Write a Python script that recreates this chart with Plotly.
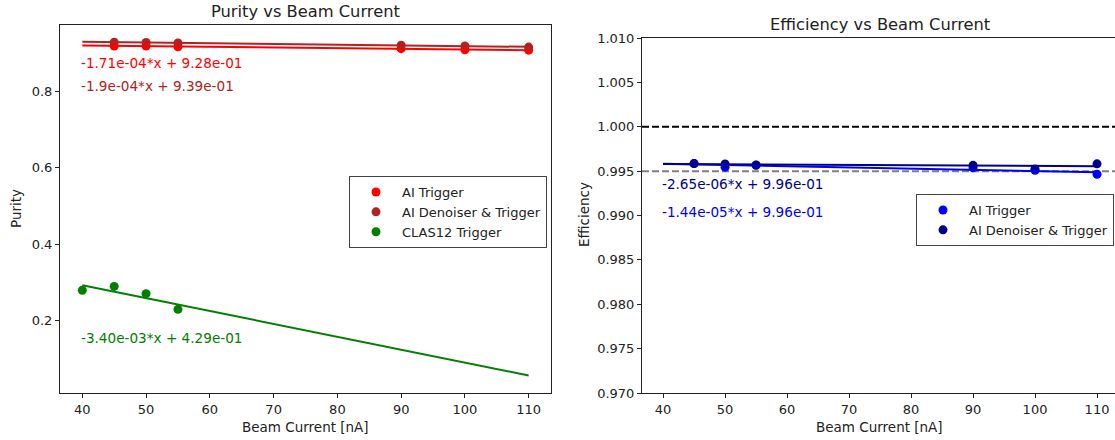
import numpy as np
import plotly.graph_objects as go

# ---------------- data ----------------
beam_ai = [45, 50, 55, 90, 100, 110]
purity_ai_trigger = [0.920, 0.920, 0.918, 0.913, 0.910, 0.909]
purity_ai_denoiser = [0.930, 0.929, 0.928, 0.922, 0.920, 0.917]

beam_clas = [40, 45, 50, 55]
purity_clas12 = [0.279, 0.289, 0.270, 0.229]

eff_ai_trigger = [0.99585, 0.99545, 0.99565, 0.99538, 0.99510, 0.99465]
eff_ai_denoiser = [0.99585, 0.99580, 0.99570, 0.99565, 0.99525, 0.99582]

fit_range = [40, 110]

purity_fit_labels = ["-1.71e-04*x + 9.28e-01", "-1.9e-04*x + 9.39e-01", "-3.40e-03*x + 4.29e-01"]
purity_label_y = [0.875, 0.815, 0.155]
eff_fit_labels = ["-2.65e-06*x + 9.96e-01", "-1.44e-05*x + 9.96e-01"]
eff_label_y = [0.9935, 0.99043]

eff_ref_lines = [1.000, 0.995]

# ---------------- style ----------------
FONT = "DejaVu Sans"
C_RED = "#ff0000"
C_FIRE = "#b22222"
C_GREEN = "#008000"
C_BLUE = "#0000ff"
C_NAVY = "#00008b"
TICK_FS = 13
LABEL_FS = 13.5
LEGEND_FS = 13
ANN_FS = 13.6
TITLE_FS = 16.3

fig = go.Figure()


def fit_line(x, y):
    m, b = np.polyfit(np.array(x, float), np.array(y, float), 1)
    xs = np.array(fit_range, float)
    return xs, m * xs + b


# Left: purity
for x, y, col, name in [
    (beam_ai, purity_ai_trigger, C_RED, "AI Trigger"),
    (beam_ai, purity_ai_denoiser, C_FIRE, "AI Denoiser & Trigger"),
    (beam_clas, purity_clas12, C_GREEN, "CLAS12 Trigger"),
]:
    fig.add_trace(go.Scatter(x=x, y=y, mode="markers", name=name,
                             marker=dict(color=col, size=9),
                             xaxis="x", yaxis="y", legend="legend"))
for x, y, col in [
    (beam_ai, purity_ai_trigger, C_RED),
    (beam_ai, purity_ai_denoiser, C_FIRE),
    (beam_clas, purity_clas12, C_GREEN),
]:
    xs, ys = fit_line(x, y)
    fig.add_trace(go.Scatter(x=xs, y=ys, mode="lines", showlegend=False,
                             line=dict(color=col, width=2),
                             xaxis="x", yaxis="y", hoverinfo="skip"))

# Right: efficiency
for x, y, col, name in [
    (beam_ai, eff_ai_trigger, C_BLUE, "AI Trigger"),
    (beam_ai, eff_ai_denoiser, C_NAVY, "AI Denoiser & Trigger"),
]:
    fig.add_trace(go.Scatter(x=x, y=y, mode="markers", name=name,
                             marker=dict(color=col, size=9),
                             xaxis="x2", yaxis="y2", legend="legend2"))
for x, y, col in [
    (beam_ai, eff_ai_trigger, C_BLUE),
    (beam_ai, eff_ai_denoiser, C_NAVY),
]:
    xs, ys = fit_line(x, y)
    fig.add_trace(go.Scatter(x=xs, y=ys, mode="lines", showlegend=False,
                             line=dict(color=col, width=2),
                             xaxis="x2", yaxis="y2", hoverinfo="skip"))

# reference dashed lines
for yv, col in zip(eff_ref_lines, ["#000000", "#808080"]):
    fig.add_shape(type="line", xref="x2 domain", yref="y2", x0=0, x1=1, y0=yv, y1=yv,
                  line=dict(color=col, width=2, dash="7px,3px"), layer="below")

# fit annotations
for txt, yv, col in zip(purity_fit_labels, purity_label_y, [C_RED, C_FIRE, C_GREEN]):
    fig.add_annotation(x=fit_range[0], y=yv, xref="x", yref="y", text=txt, showarrow=False,
                       xanchor="left", yanchor="middle", xshift=-3,
                       font=dict(color=col, size=ANN_FS, family=FONT))
for txt, yv, col in zip(eff_fit_labels, eff_label_y, [C_NAVY, C_BLUE]):
    fig.add_annotation(x=fit_range[0], y=yv, xref="x2", yref="y2", text=txt, showarrow=False,
                       xanchor="left", yanchor="middle", xshift=-3,
                       font=dict(color=col, size=ANN_FS, family=FONT))

W, H = 1115, 440
L1, R1 = 60 / W, 551 / W
L2 = 642 / W
B = (H - 393) / H
T1 = (H - 25) / H
T2 = (H - 38) / H

axis_common = dict(showline=True, linecolor="#222", linewidth=1, ticks="outside",
                   ticklen=4, tickcolor="#222", showgrid=False, zeroline=False,
                   automargin=False,
                   tickfont=dict(size=TICK_FS, color="#222", family=FONT))

fig.update_layout(
    template="none",
    width=W, height=H,
    margin=dict(l=0, r=0, t=0, b=0, pad=0),
    paper_bgcolor="white", plot_bgcolor="white",
    font=dict(family=FONT, color="#222"),
    xaxis=dict(domain=[L1, R1], range=[36.5, 113.5], tickvals=[40, 50, 60, 70, 80, 90, 100, 110],
               mirror=True, anchor="y", **axis_common),
    yaxis=dict(domain=[B, T1], range=[0.0094, 0.975], tickvals=[0.2, 0.4, 0.6, 0.8],
               tickformat=".1f", mirror=True, anchor="x", **axis_common),
    xaxis2=dict(domain=[L2, 1.0], range=[36.6, 112.9], tickvals=[40, 50, 60, 70, 80, 90, 100, 110],
                mirror=True, anchor="y2", **axis_common),
    yaxis2=dict(domain=[B, T2], range=[0.970, 1.010], dtick=0.005, tick0=0.97,
                tickformat=".3f", mirror=False, anchor="x2", **axis_common),
    legend=dict(x=349 / W, y=(H - 176) / H, xanchor="left", yanchor="top",
                bgcolor="white", bordercolor="#444", borderwidth=1,
                tracegroupgap=0, itemwidth=42,
                font=dict(size=LEGEND_FS, family=FONT, color="#222")),
    legend2=dict(x=916 / W, y=(H - 194) / H, xanchor="left", yanchor="top",
                 bgcolor="white", bordercolor="#444", borderwidth=1,
                 tracegroupgap=0, itemwidth=42,
                 font=dict(size=LEGEND_FS, family=FONT, color="#222")),
    showlegend=True,
)

# titles and axis labels
fig.add_annotation(text="Purity vs Beam Current", x=(L1 + R1) / 2, y=(H - 12) / H, xref="paper", yref="paper",
                   showarrow=False, xanchor="center", yanchor="middle", font=dict(size=TITLE_FS, family=FONT))
fig.add_annotation(text="Efficiency vs Beam Current", x=(642 + 1118) / 2 / W, y=(H - 25) / H, xref="paper", yref="paper",
                   showarrow=False, xanchor="center", yanchor="middle", font=dict(size=TITLE_FS, family=FONT))
fig.add_annotation(text="Beam Current [nA]", x=(L1 + R1) / 2, y=(H - 427) / H, xref="paper", yref="paper",
                   showarrow=False, xanchor="center", yanchor="middle", font=dict(size=LABEL_FS, family=FONT))
fig.add_annotation(text="Beam Current [nA]", x=(642 + 1118) / 2 / W, y=(H - 427) / H, xref="paper", yref="paper",
                   showarrow=False, xanchor="center", yanchor="middle", font=dict(size=LABEL_FS, family=FONT))
fig.add_annotation(text="Purity", x=16 / W, y=(H - 209) / H, xref="paper", yref="paper", textangle=-90,
                   showarrow=False, xanchor="center", yanchor="middle", font=dict(size=LABEL_FS, family=FONT))
fig.add_annotation(text="Efficiency", x=584 / W, y=(H - 215) / H, xref="paper", yref="paper", textangle=-90,
                   showarrow=False, xanchor="center", yanchor="middle", font=dict(size=LABEL_FS, family=FONT))

fig.write_html("out.html", config={"displayModeBar": False},
               post_script="document.body.style.margin='0';document.body.style.overflow='hidden';")
